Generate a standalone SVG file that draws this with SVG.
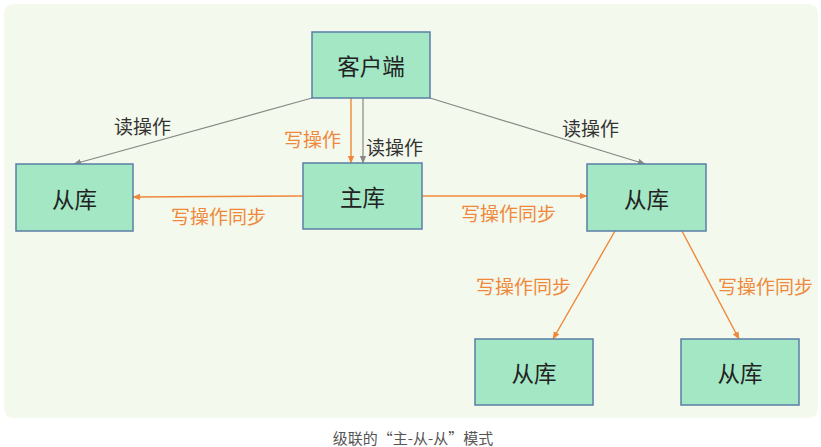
<svg xmlns="http://www.w3.org/2000/svg" width="821" height="447" viewBox="0 0 821 447">
<style>
.node rect{fill:#a3e7c5;stroke:#5b7fa6;stroke-width:1.5}
.node text{font-family:"Noto Sans CJK SC",sans-serif;font-size:22.5px;fill:#222;text-anchor:middle;dominant-baseline:central}
.lbl{font-family:"Noto Sans CJK SC",sans-serif;font-size:19px;dominant-baseline:central}
.gl{fill:#333}
.ol{fill:#f0883c}
.g{stroke:#888;stroke-width:1.2;fill:none}
.o{stroke:#f0883c;stroke-width:1.4;fill:none}
</style>
<defs>
<marker id="ag" viewBox="0 0 10 10" refX="9" refY="5" markerWidth="8" markerHeight="8" markerUnits="userSpaceOnUse" orient="auto"><path d="M0,1 L10,5 L0,9 Z" fill="#888"/></marker>
<marker id="ao" viewBox="0 0 10 10" refX="9" refY="5" markerWidth="8" markerHeight="8" markerUnits="userSpaceOnUse" orient="auto"><path d="M0,1 L10,5 L0,9 Z" fill="#f0883c"/></marker>
</defs>
<rect x="4" y="4" width="814" height="414" rx="9" fill="#f3f9ec"/>
<g id="connectors">
<line class="g" x1="312" y1="98" x2="74" y2="164" marker-end="url(#ag)"/>
<line class="g" x1="430" y1="98" x2="645" y2="164" marker-end="url(#ag)"/>
<line class="o" x1="351" y1="98" x2="351" y2="163" marker-end="url(#ao)"/>
<line class="g" x1="363" y1="98" x2="363" y2="163" marker-end="url(#ag)"/>
<line class="o" x1="303" y1="196" x2="133" y2="197" marker-end="url(#ao)"/>
<line class="o" x1="422" y1="196" x2="587" y2="196" marker-end="url(#ao)"/>
<line class="o" x1="615" y1="231" x2="553" y2="339" marker-end="url(#ao)"/>
<line class="o" x1="682" y1="231" x2="739" y2="339" marker-end="url(#ao)"/>
</g>
<g id="labels">
<text class="lbl gl" x="114" y="125">读操作</text>
<text class="lbl ol" x="284" y="138">写操作</text>
<text class="lbl gl" x="366" y="146">读操作</text>
<text class="lbl gl" x="562" y="127">读操作</text>
<text class="lbl ol" x="171" y="215">写操作同步</text>
<text class="lbl ol" x="461" y="212">写操作同步</text>
<text class="lbl ol" x="476" y="285">写操作同步</text>
<text class="lbl ol" x="718" y="285">写操作同步</text>
</g>
<g id="client" class="node"><rect x="312" y="32" width="118" height="66"/><text x="371" y="65">客户端</text></g>
<g id="master" class="node"><rect x="303" y="163" width="119" height="66"/><text x="362.5" y="196">主库</text></g>
<g id="slave-left" class="node"><rect x="16" y="164" width="117" height="67"/><text x="74.5" y="197.5">从库</text></g>
<g id="slave-right" class="node"><rect x="587" y="164" width="119" height="67"/><text x="646.5" y="197.5">从库</text></g>
<g id="slave-bl" class="node"><rect x="475" y="339" width="118" height="66"/><text x="534" y="372">从库</text></g>
<g id="slave-br" class="node"><rect x="681" y="339" width="118" height="66"/><text x="740" y="372">从库</text></g>
<text x="413" y="437" font-family="Noto Sans CJK SC,sans-serif" font-size="15" fill="#555" text-anchor="middle" dominant-baseline="central">级联的“主-从-从”模式</text>
</svg>
